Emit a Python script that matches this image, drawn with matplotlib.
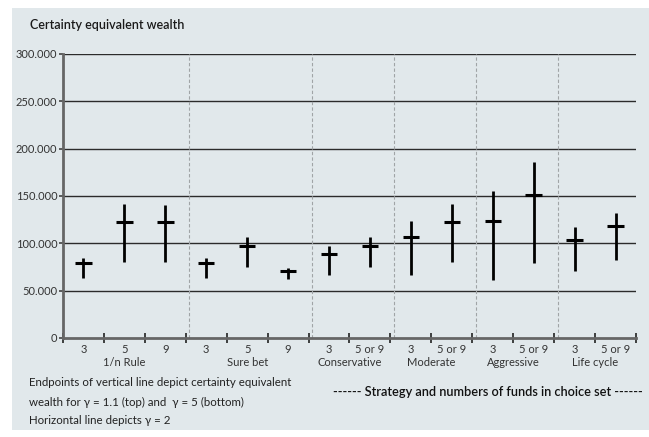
import matplotlib
matplotlib.use("Agg")
import matplotlib.pyplot as plt

plt.rcParams['font.family'] = ['Lato', 'DejaVu Sans']

# data (certainty equivalent wealth)
tick_labels = ["3", "5", "9", "3", "5", "9", "3", "5 or 9", "3", "5 or 9", "3", "5 or 9", "3", "5 or 9"]
groups = ["1/n Rule", "Sure bet", "Conservative", "Moderate", "Aggressive", "Life cycle"]
group_sizes = [3, 3, 2, 2, 2, 2]
ce_top = [84500, 141500, 140400, 84000, 106300, 74300, 97500, 106300, 123900, 141500, 155600, 185500, 117200, 132500]
ce_mid = [79200, 122800, 122200, 79000, 97500, 71000, 89000, 97500, 107000, 122800, 123900, 151300, 103500, 118000]
ce_bot = [63400, 80000, 80000, 63700, 74600, 62000, 66900, 74600, 66900, 80000, 60900, 78900, 70400, 82000]

bg = "#e1e8eb"
fig = plt.figure(figsize=(6.49, 4.37), dpi=100, facecolor="white")

# grey panel behind everything
bax = fig.add_axes([12/649, 1 - 430/437, 637/649, 422/437], zorder=-10)
bax.axis("off")
bax.add_patch(plt.Rectangle((0, 0), 1, 1, transform=bax.transAxes, facecolor=bg, edgecolor="none"))

ax = fig.add_axes([63/649, 1 - 338/437, 573/649, 284/437])
ax.patch.set_alpha(0)

n = len(tick_labels)
xs = [i + 0.5 for i in range(n)]
ax.set_xlim(0, n)
ax.set_ylim(0, 300000)

# horizontal grid lines
for yv in range(50000, 300001, 50000):
    ax.axhline(yv, color="#2b2b2b", lw=1.0, zorder=1)

# dashed separators between strategies
pos = 0
for s in group_sizes[:-1]:
    pos += s
    ax.axvline(pos + 0.09, color="#a0a4a6", lw=0.8, ls=(0, (3, 2)), zorder=1)

# vertical range lines and horizontal markers
ax.vlines(xs, ce_bot, ce_top, color="black", lw=2, zorder=3)
ax.hlines(ce_mid, [x - 0.2 for x in xs], [x + 0.2 for x in xs], color="black", lw=2.2, zorder=3)

for sp in ["top", "right"]:
    ax.spines[sp].set_visible(False)
ax.spines["left"].set_color("#666666")
ax.spines["left"].set_linewidth(2)
ax.spines["bottom"].set_color("#666666")
ax.spines["bottom"].set_linewidth(2)

ax.set_yticks(range(0, 300001, 50000))
ax.set_yticklabels(["0", "50.000", "100.000", "150.000", "200.000", "250.000", "300.000"])
ax.tick_params(axis="y", direction="out", length=3, width=1.2, color="#444444",
               labelsize=8, labelcolor="#333333", pad=1)

ax.set_xticks(range(0, n + 1))
ax.set_xticklabels([])
ax.tick_params(axis="x", direction="inout", length=7, width=1.2, color="#222222")
for x, lab in zip(xs, tick_labels):
    ax.text(x, -6500, lab, ha="center", va="top", fontsize=8, color="#333333")

start = 0
for g, s in zip(groups, group_sizes):
    ax.text(start + s / 2, -20000, g, ha="center", va="top", fontsize=8, color="#333333")
    start += s

fig.text(30/649, 1 - 25/437, "Certainty equivalent wealth", fontsize=9, color="#1a1a1a",
         va="center", ha="left", fontweight="semibold")

fig.text(29/649, 1 - 383/437, "Endpoints of vertical line depict certainty equivalent",
         fontsize=8.3, color="#222222", va="center")
fig.text(29/649, 1 - 402/437, "wealth for \u03b3 = 1.1 (top) and  \u03b3 = 5 (bottom)",
         fontsize=8.3, color="#222222", va="center")
fig.text(29/649, 1 - 420/437, "Horizontal line depicts \u03b3 = 2",
         fontsize=8.3, color="#222222", va="center")
fig.text(643/649, 1 - 392/437, "------ Strategy and numbers of funds in choice set ------",
         fontsize=9.2, color="#111111", va="center", ha="right", fontweight="semibold")

plt.savefig("out.png", dpi=100, facecolor="white")
